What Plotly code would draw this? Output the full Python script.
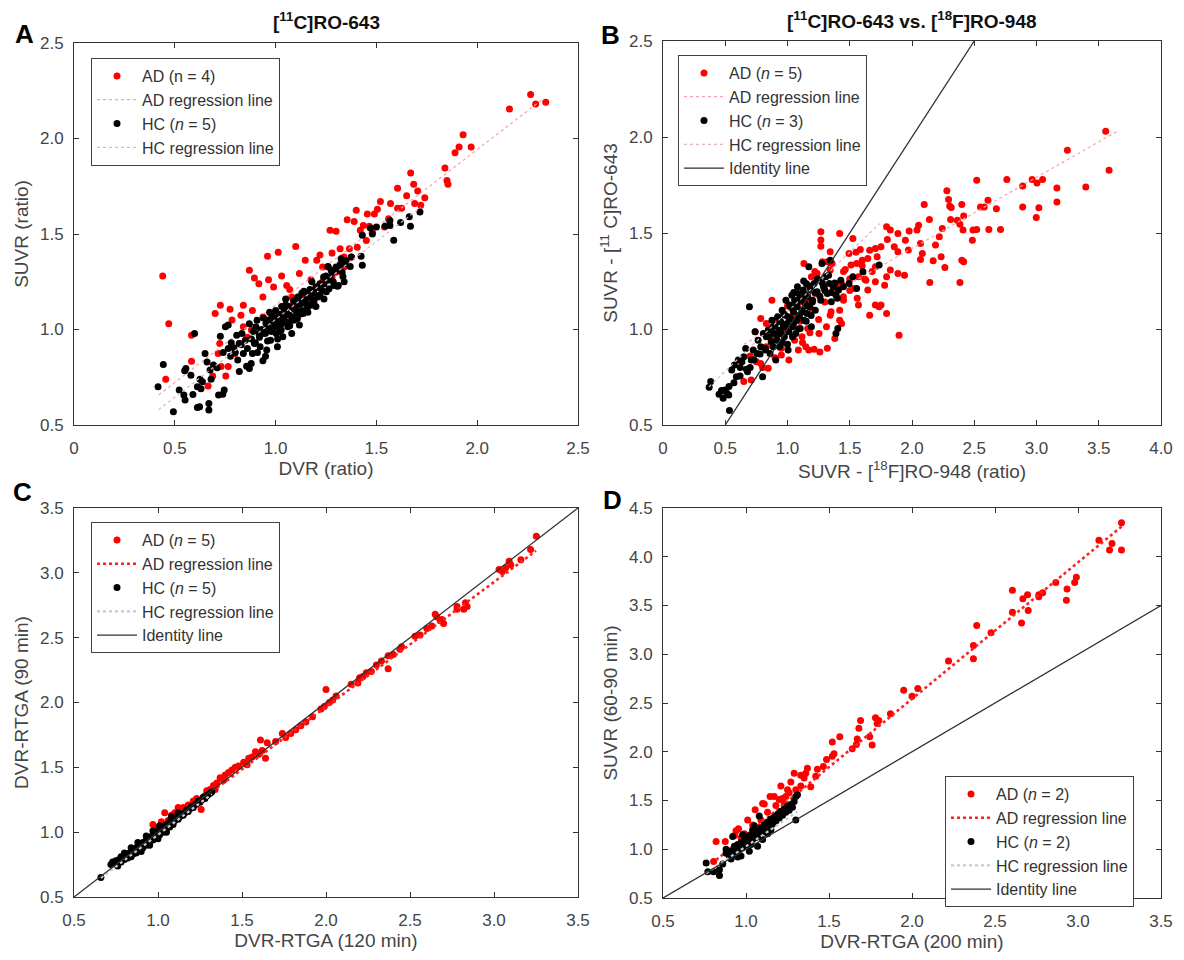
import plotly.graph_objects as go

# ---------------- data ----------------
# Panel A: [11C]RO-643, SUVR vs DVR
a_ad = [(0.44,1.28),(0.47,1.03),(0.455,0.74),(2.265,2.23),(2.16,2.155),(2.29,2.18),(2.34,2.19),(1.93,2.02),(1.91,1.955),(1.97,1.955),
        (1.89,1.925),(1.84,1.845),(1.85,1.78),(1.855,1.76),(1.74,1.69),(1.67,1.82),(1.685,1.76),(1.705,1.725),(1.605,1.74),(1.65,1.70),
        (1.69,1.66),(1.625,1.635),(1.605,1.635),(1.57,1.66),(1.52,1.67),(1.505,1.63),(1.49,1.605),(1.455,1.605),(1.40,1.625),(1.355,1.575),
        (1.39,1.565),(1.435,1.545),(1.42,1.52),(1.30,1.515),(1.27,1.52),(1.10,1.435),(1.013,1.404),(0.96,1.383),(0.87,1.31),(0.895,1.27),
        (0.917,1.24),(0.937,1.17),(0.965,1.26),(0.99,1.223),(1.03,1.28),(1.055,1.23),(1.07,1.21),(1.08,1.17),(1.118,1.293),(1.147,1.362),
        (1.175,1.26),(1.204,1.362),(1.233,1.327),(1.26,1.327),(1.28,1.40),(1.32,1.423),(1.34,1.38),(1.366,1.423),(1.22,1.39),(0.726,1.127),
        (0.70,1.084),(0.774,1.106),(0.828,1.075),(0.84,1.127),(0.885,1.10),(0.937,1.066),(0.84,1.014),(0.784,1.05),(0.583,0.97),(0.583,0.834),
        (0.723,0.927),(0.715,0.875),(0.688,0.757),(0.665,0.704),(0.73,0.806),(0.753,0.757),(0.765,0.806),(0.797,0.875),(0.82,0.927),(0.86,0.96),
        (0.88,0.997),(0.955,1.05),(0.994,1.084),(1.04,1.118),(1.09,1.145),(1.128,1.17),(1.166,1.188),(1.204,1.223),(1.233,1.25),(1.28,1.275),
        (1.30,1.30),(1.34,1.327),(1.376,1.38),(1.405,1.43),(1.45,1.466),(1.48,1.51),(1.54,1.537),(1.56,1.58),(1.465,1.54),(1.72,1.65)]
a_hc = [(0.417,0.70),(0.443,0.817),(0.493,0.57),(0.522,0.683),(0.545,0.657),(0.551,0.631),(0.555,0.796),(0.549,0.784),(0.598,0.979),(0.612,0.70),
        (0.612,0.592),(0.623,0.595),(0.625,0.739),(0.637,0.727),(0.65,0.875),(0.66,0.83),(0.669,0.613),(0.669,0.578),(0.675,0.788),(0.692,0.814),
        (0.717,0.657),(0.738,0.661),(0.745,0.683),(0.726,0.965),(0.751,1.014),(0.765,1.023),(0.765,0.90),(0.776,0.86),(0.793,0.904),(0.807,0.97),
        (0.812,0.84),(0.82,0.927),(0.833,0.979),(0.84,0.875),(0.85,0.944),(0.856,0.808),(0.87,0.796),(0.879,0.822),(0.885,0.875),(0.895,0.927),
        (0.902,1.014),(0.908,1.049),(0.917,0.979),(0.923,0.91),(0.937,0.836),(0.942,0.979),(0.952,1.031),(0.956,0.893),(0.965,0.997),(0.975,0.944),
        (0.984,1.066),(0.994,1.014),(1.003,0.979),(1.009,0.91),(1.019,1.049),(1.028,0.997),(1.036,0.962),(1.042,1.092),(1.051,1.04),(1.061,1.014),
        (1.07,1.075),(1.08,0.979),(1.09,1.049),(1.10,1.10),(1.108,1.058),(1.118,1.023),(1.128,1.136),(1.137,1.084),(1.147,1.153),(1.156,1.11),
        (1.166,1.17),(1.175,1.127),(1.185,1.205),(1.19,1.145),(1.20,1.223),(1.21,1.17),(1.22,1.24),(1.23,1.205),(1.238,1.275),(1.252,1.197),
        (1.26,1.258),(1.276,1.31),(1.286,1.25),(1.30,1.327),(1.311,1.23),(1.325,1.371),(1.334,1.278),(1.348,1.345),(1.376,1.38),(1.424,1.383),
        (1.43,1.336),(1.43,1.493),(1.47,1.531),(1.50,1.537),(1.544,1.542),(1.567,1.545),(1.586,1.467),(1.62,1.56),(1.663,1.59),(1.669,1.54),
        (1.716,1.615),(1.567,1.571),(1.48,1.50),(1.265,1.214),(1.307,1.226),
        (0.86,0.90),(0.88,0.95),(0.90,0.93),(0.92,0.96),(0.93,1.00),(0.95,0.98),(0.96,1.02),(0.97,1.05),(0.98,0.99),(0.99,1.04),
        (1.00,1.06),(1.01,1.02),(1.02,1.08),(1.03,1.03),(1.04,1.06),(1.05,1.10),(1.06,1.08),(1.07,1.12),(1.08,1.05),(1.09,1.11),
        (1.10,1.07),(1.11,1.13),(1.12,1.16),(1.13,1.10),(1.14,1.14),(1.15,1.19),(1.16,1.13),(1.17,1.21),(1.18,1.16),(1.19,1.19),
        (1.21,1.22),(1.22,1.18),(1.24,1.24),(1.25,1.28),(1.27,1.27),(1.28,1.30),(1.29,1.23),(1.31,1.31),(1.32,1.34),(1.33,1.30),
        (1.35,1.36),(1.37,1.33),(1.00,1.10),(0.98,1.08),(1.05,1.13),(0.94,1.06),(0.89,0.99),(0.83,0.92),(0.87,1.03),(0.91,0.88),
        (0.96,0.94),(1.02,0.99),(1.06,1.03),(1.12,1.08),(1.16,1.09),(1.20,1.12),(1.24,1.16),(1.18,1.25),(1.14,1.20),(1.26,1.33),
        (1.34,1.25),(0.80,0.88),(0.78,0.93),(0.74,0.88),(0.71,0.80),(0.68,0.74),(0.63,0.69),(0.58,0.76),(0.59,0.66),(0.82,0.78),
        (0.95,0.86),(1.11,1.17),(1.05,1.16),(1.03,1.12),(0.97,1.09),(1.09,1.15),(1.13,1.19),(1.07,1.02),(1.01,0.95)]
# regression lines: (slope, intercept, x_start, x_end)
a_ad_fit = (0.813, 0.316, 0.42, 2.33)
a_hc_fit = (0.815, 0.238, 0.42, 1.72)

# Panel B: [11C]RO-643 SUVR vs [18F]RO-948 SUVR
b_ad = [(3.556,2.03),(3.248,1.931),(3.583,1.827),(2.762,1.778),(2.52,1.775),(2.889,1.745),(2.965,1.778),(3.004,1.761),(3.049,1.778),(3.164,1.735),
        (3.396,1.74),(2.28,1.72),(2.294,1.674),(2.303,1.64),(2.315,1.633),(2.098,1.648),(2.40,1.648),(2.55,1.636),(2.58,1.636),(2.61,1.67),
        (2.678,1.626),(2.889,1.636),(3.019,1.631),(3.164,1.662),(2.998,1.581),(2.14,1.57),(2.31,1.57),(2.364,1.567),(2.415,1.588),(2.385,1.546),
        (2.41,1.515),(2.49,1.515),(2.52,1.518),(2.617,1.518),(2.711,1.518),(2.485,1.462),(2.243,1.523),(2.219,1.48),(2.189,1.437),(2.053,1.541),
        (2.04,1.515),(1.977,1.511),(1.947,1.462),(2.068,1.445),(2.083,1.393),(1.971,1.411),(2.068,1.362),(2.17,1.355),(2.234,1.376),(2.264,1.32),
        (2.40,1.358),(2.415,1.35),(2.143,1.242),(2.385,1.242),(1.896,0.968),(1.796,1.532),(1.826,1.515),(1.887,1.497),(1.802,1.466),(1.857,1.428),
        (1.887,1.402),(1.751,1.428),(1.706,1.419),(1.66,1.41),(1.585,1.414),(1.525,1.471),(1.419,1.497),(1.268,1.506),(1.268,1.463),(1.268,1.431),
        (1.343,1.402),(1.494,1.393),(1.72,1.376),(1.645,1.367),(1.60,1.358),(1.555,1.341),(1.51,1.333),(1.464,1.31),(1.826,1.307),(1.796,1.272),
        (1.887,1.289),(1.94,1.28),(1.706,1.324),(1.706,1.246),(1.63,1.254),(1.57,1.272),(1.78,1.228),(1.645,1.203),(1.525,1.211),(1.434,1.237),
        (1.389,1.185),(1.449,1.168),(1.706,1.125),(1.736,1.116),(1.66,1.072),(1.796,1.081),(1.751,1.125),(1.57,1.125),(1.419,1.098),(1.343,1.072),
        (1.419,1.046),(1.434,1.029),(1.313,1.012),(1.253,0.977),(1.162,1.003),(1.117,0.96),(1.147,0.908),(1.087,0.89),(1.011,0.838),(0.951,0.864),
        (0.89,0.942),(0.83,0.908),(0.785,0.82),(0.709,0.734),(0.649,0.726),(0.845,0.795),(1.171,0.89),(1.214,0.894),(1.057,0.942),(1.177,1.142),
        (1.162,1.229),(1.192,1.272),(1.238,1.289),(1.223,1.185),(1.298,1.211),(1.343,1.307),(1.358,1.341),(1.32,1.35),(1.066,1.116),(1.102,1.142),
        (1.011,1.064),(0.981,1.003),(0.921,1.055),(0.875,1.15),(0.785,1.055),(0.83,1.029),(0.74,0.986),(1.132,1.341),
        (1.00,1.12),(1.05,1.08),(1.10,1.04),(1.15,1.16),(1.20,1.10),(1.25,1.05),(1.30,1.14),(1.35,1.09),(1.40,1.22),(1.45,1.30),
        (1.50,1.26),(1.55,1.40),(1.60,1.33),(1.28,1.35),(1.22,1.30),(1.18,0.98),(1.12,0.93),(0.95,0.90),(0.90,0.85),(0.80,0.80),
        (0.75,0.83),(0.70,0.86),(0.85,1.00),(1.45,1.15),(1.38,0.95),(1.32,0.90),(1.26,0.88),(1.50,1.20),(1.62,1.26),(1.68,1.30),(1.56,1.16)]
b_hc = [(0.371,0.696),(0.383,0.726),(0.483,0.639),(0.498,0.682),(0.513,0.665),(0.528,0.656),(0.534,0.575),(0.552,0.786),(0.574,0.812),(0.589,0.751),
        (0.604,0.838),(0.619,0.755),(0.634,0.83),(0.649,0.856),(0.664,0.899),(0.679,0.777),(0.694,1.116),(0.709,0.838),(0.725,0.89),(0.74,0.986),
        (0.755,0.873),(0.764,0.942),(0.785,0.908),(0.80,0.751),(0.806,0.977),(0.824,0.89),(0.83,0.96),(0.845,0.994),(0.86,0.873),(0.869,0.934),
        (0.875,1.046),(0.885,0.908),(0.89,0.977),(0.90,1.02),(0.906,0.838),(0.915,0.942),(0.921,1.064),(0.93,0.994),(0.936,0.908),(0.945,1.038),
        (0.951,0.977),(0.957,1.098),(0.966,1.012),(0.975,0.96),(0.981,1.072),(0.987,1.15),(0.996,1.029),(1.005,0.89),(1.011,0.986),(1.017,1.125),
        (1.026,1.055),(1.035,1.176),(1.042,1.012),(1.048,1.09),(1.057,1.15),(1.066,0.977),(1.072,1.046),(1.078,1.116),(1.087,1.185),(1.096,1.072),
        (1.102,1.003),(1.111,1.15),(1.117,1.098),(1.126,1.203),(1.132,1.046),(1.141,1.133),(1.15,1.237),(1.156,1.081),(1.162,1.168),(1.171,1.324),
        (1.177,1.116),(1.186,1.203),(1.192,1.012),(1.202,1.15),(1.214,1.237),(1.223,1.098),(1.238,1.194),(1.253,1.254),(1.268,1.15),(1.277,1.341),
        (1.289,1.22),(1.307,1.272),(1.32,1.185),(1.337,1.237),(1.352,1.142),(1.367,1.22),(1.389,1.176),(1.389,0.977),(1.404,1.003),(1.41,1.203),
        (1.428,1.254),(1.449,1.22),(1.494,1.237),(1.555,1.211),(1.606,1.298),(1.736,1.333),(1.525,1.272),(1.343,1.358),
        (0.88,1.01),(0.92,0.97),(0.94,1.04),(0.97,1.08),(0.99,1.01),(1.01,1.06),(1.03,1.11),(1.05,1.03),(1.07,1.13),(1.09,1.07),
        (1.10,1.16),(1.12,1.09),(1.14,1.18),(1.16,1.12),(1.18,1.22),(1.20,1.14),(1.22,1.19),(1.24,1.26),(1.26,1.17),(1.28,1.24),
        (1.30,1.20),(1.33,1.28),(1.35,1.19),(1.38,1.24),(1.40,1.16),(1.05,1.19),(1.08,1.22),(1.13,1.25),(0.96,0.93),(1.00,0.92),
        (1.04,0.96),(1.09,1.00),(1.15,1.04),(1.19,1.07),(0.85,0.96),(0.82,0.90),(0.78,0.87),(0.73,0.84),(0.70,0.80),(0.67,0.79),
        (0.62,0.80),(0.57,0.72),(0.53,0.70),(0.47,0.68),(0.45,0.66)]
b_ad_fit = (0.370, 0.680, 0.65, 3.65)
b_hc_fit = (0.620, 0.470, 0.37, 1.74)

# Panel C: DVR-RTGA 90 min vs 120 min
c_ad = [(3.252,3.282),(3.218,3.18),(3.16,3.10),(3.09,3.09),(3.07,3.04),(3.03,3.025),(3.05,3.01),(3.10,3.06),(2.84,2.74),(2.83,2.77),
        (2.78,2.74),(2.78,2.72),(2.82,2.72),(2.65,2.68),(2.66,2.66),(2.68,2.63),(2.70,2.61),(2.63,2.59),(2.69,2.64),(2.56,2.52),
        (2.53,2.51),(2.60,2.57),(2.45,2.43),(2.44,2.41),(2.40,2.37),(2.37,2.36),(2.37,2.26),(2.33,2.32),(2.30,2.29),(2.27,2.24),
        (2.24,2.23),(2.20,2.19),(2.19,2.15),(2.15,2.14),(2.22,2.20),(2.0,2.10),(2.06,2.05),(2.04,2.02),(2.02,2.00),(1.97,1.95),
        (1.99,1.97),(1.92,1.89),(1.85,1.82),(1.82,1.79),(1.88,1.85),(1.79,1.76),(1.74,1.76),(1.76,1.73),(1.70,1.70),(1.65,1.69),
        (1.61,1.71),(1.64,1.57),(1.58,1.62),(1.60,1.60),(1.62,1.63),(1.56,1.58),(1.54,1.57),(1.51,1.54),(1.53,1.52),(1.48,1.51),
        (1.46,1.50),(1.44,1.48),(1.42,1.46),(1.40,1.44),(1.37,1.42),(1.39,1.40),(1.35,1.38),(1.33,1.36),(1.34,1.33),(1.31,1.33),
        (1.30,1.30),(1.29,1.32),(1.28,1.28),(1.27,1.27),(1.26,1.25),(1.23,1.26),(1.257,1.174),(1.24,1.23),(1.21,1.24),(1.18,1.21),
        (1.15,1.19),(1.12,1.19),(1.10,1.15),(1.08,1.13),(1.04,1.15),(1.06,1.09),(0.97,1.06),(1.02,1.08),(0.99,1.03)]
c_hc = [(0.66,0.65),(0.72,0.75),(0.73,0.77),(0.74,0.76),(0.75,0.78),(0.76,0.74),(0.77,0.79),(0.78,0.77),(0.79,0.80),(0.80,0.79),
        (0.81,0.82),(0.82,0.80),(0.83,0.84),(0.84,0.81),(0.85,0.86),(0.85,0.83),(0.86,0.85),(0.87,0.88),(0.87,0.84),(0.88,0.87),
        (0.89,0.90),(0.89,0.86),(0.90,0.89),(0.91,0.92),(0.91,0.88),(0.92,0.91),(0.93,0.94),(0.93,0.90),(0.94,0.93),(0.95,0.96),
        (0.95,0.92),(0.96,0.95),(0.97,0.98),(0.97,0.94),(0.98,0.97),(0.99,1.00),(0.99,0.96),(1.00,0.99),(1.01,1.02),(1.01,0.98),
        (1.02,1.01),(1.03,1.04),(1.03,1.00),(1.04,1.03),(1.05,1.06),(1.05,1.02),(1.06,1.05),(1.07,1.08),(1.07,1.04),(1.08,1.07),
        (1.09,1.10),(1.09,1.06),(1.10,1.09),(1.11,1.11),(1.12,1.10),(1.13,1.12),(1.14,1.14),(1.15,1.13),(1.16,1.15),(1.17,1.17),
        (1.18,1.16),(1.19,1.18),(1.20,1.20),(1.21,1.19),(1.22,1.21),(1.23,1.22),(1.24,1.24),(1.25,1.23),(1.26,1.25),(1.27,1.27),
        (1.28,1.26),(1.29,1.28),(1.30,1.29),(1.31,1.30),(1.32,1.31),(0.93,0.97),(0.97,1.01),(1.01,1.05),(0.90,0.85),(0.95,0.90),
        (1.00,0.95),(1.05,1.00),(0.88,0.92),(0.84,0.88),(0.80,0.84),(0.78,0.81),(1.08,1.12),(1.12,1.15)]
c_ad_fit = (0.963, 0.040, 0.95, 3.25)
c_hc_fit = (0.980, 0.000, 0.66, 1.32)

# Panel D: SUVR (60-90 min) vs DVR-RTGA (200 min)
d_ad = [(3.262,4.35),(3.126,4.17),(3.205,4.135),(3.19,4.07),(3.262,4.07),(2.99,3.79),(2.98,3.735),(2.866,3.735),(2.934,3.67),(2.93,3.555),
        (2.787,3.63),(2.764,3.61),(2.764,3.59),(2.696,3.61),(2.605,3.657),(2.668,3.57),(2.70,3.45),(2.605,3.43),(2.66,3.32),(2.39,3.295),
        (2.37,3.09),(2.37,2.955),(2.476,3.22),(2.22,2.93),(2.035,2.65),(2.0,2.57),(1.95,2.63),(1.87,2.39),(1.80,2.32),(1.78,2.35),
        (1.79,2.29),(1.745,2.155),(1.76,2.07),(1.69,2.32),(1.68,2.24),(1.67,2.13),(1.64,2.03),(1.665,2.075),(1.565,2.155),(1.52,2.10),
        (1.53,1.98),(1.52,1.955),(1.485,1.92),(1.466,1.85),(1.43,1.82),(1.37,1.83),(1.39,1.64),(1.33,1.76),(1.35,1.73),(1.29,1.78),
        (1.27,1.69),(1.21,1.65),(1.25,1.61),(1.17,1.54),(1.11,1.465),(1.055,1.405),(1.01,1.30),(0.955,1.21),(0.93,1.14),(0.82,1.08),
        (0.805,0.875),(0.875,1.08),(1.20,1.51),(1.24,1.54),(1.30,1.61),(1.33,1.65),(1.36,1.78),(1.42,1.75),(1.09,1.30),(1.10,1.47),
        (1.145,1.54),(0.99,1.16),(0.94,1.19),(0.97,1.12),(1.04,1.25),(1.13,1.38),(1.18,1.45),(1.22,1.52),(1.26,1.58),(1.23,1.47)]
d_hc = [(0.76,0.86),(0.77,0.77),(0.805,0.77),(0.84,0.73),(0.84,0.79),(0.86,0.85),(0.88,0.96),(0.88,1.00),(0.90,0.93),(0.90,0.98),
        (0.91,0.90),(0.92,1.13),(0.93,0.99),(0.93,1.03),(0.94,0.96),(0.95,1.05),(0.96,1.00),(0.97,1.07),(0.98,1.02),(0.99,1.09),
        (1.00,1.04),(1.00,1.12),(1.01,1.07),(1.02,1.14),(1.03,1.05),(1.04,1.10),(1.05,1.16),(1.06,1.12),(1.07,1.19),(1.07,1.03),
        (1.08,1.15),(1.09,1.22),(1.10,1.18),(1.11,1.25),(1.12,1.20),(1.13,1.28),(1.13,1.16),(1.14,1.23),(1.15,1.31),(1.16,1.26),
        (1.17,1.33),(1.18,1.29),(1.19,1.36),(1.20,1.32),(1.21,1.39),(1.22,1.35),(1.23,1.41),(1.24,1.38),(1.25,1.44),(1.26,1.40),
        (1.27,1.46),(1.28,1.43),(1.29,1.49),(1.30,1.30),(1.30,1.54),(1.31,1.56),(1.08,1.34),(1.05,1.24),(0.98,1.15),(1.02,0.98),
        (0.97,0.93),(1.10,1.10),(1.15,1.20),(0.95,0.92),(0.92,0.94),(1.04,1.20)]
d_ad_fit = (1.400, -0.258, 0.82, 3.27)
d_hc_fit = (1.150, -0.120, 0.76, 1.31)

# axis ranges and tick labels
a_xticks = [0, 0.5, 1.0, 1.5, 2.0, 2.5]
a_xlabels = ["0", "0.5", "1.0", "1.5", "2.0", "2.5"]
a_yticks = [0.5, 1.0, 1.5, 2.0, 2.5]
b_xticks = [0, 0.5, 1.0, 1.5, 2.0, 2.5, 3.0, 3.5, 4.0]
b_xlabels = ["0", "0.5", "1.0", "1.5", "2.0", "2.5", "3.0", "3.5", "4.0"]
b_yticks = [0.5, 1.0, 1.5, 2.0, 2.5]
c_xticks = [0.5, 1.0, 1.5, 2.0, 2.5, 3.0, 3.5]
c_yticks = [0.5, 1.0, 1.5, 2.0, 2.5, 3.0, 3.5]
d_xticks = [0.5, 1.0, 1.5, 2.0, 2.5, 3.0, 3.5]
d_yticks = [0.5, 1.0, 1.5, 2.0, 2.5, 3.0, 3.5, 4.0, 4.5]

# ---------------- layout helpers ----------------
W, H, OFF = 1168, 944, 8
FONT = "Liberation Sans, Arial, sans-serif"


def fx(px):
    return (px - OFF) / W


def fy(py):
    return 1 - (py - OFF) / H


fig = go.Figure()

RED = "#ff0000"
BLACK = "#000000"


def add_panel(k, ad, hc, ad_fit, hc_fit, names, thick, identity, xr, yr):
    xa = "x" if k == 1 else f"x{k}"
    ya = "y" if k == 1 else f"y{k}"
    leg = "legend" if k == 1 else f"legend{k}"
    fig.add_trace(go.Scatter(x=[p[0] for p in ad], y=[p[1] for p in ad], mode="markers",
                             marker=dict(color=RED, size=7, line=dict(width=0)),
                             name=names[0], xaxis=xa, yaxis=ya, legend=leg))
    fx_ = [ad_fit[2], ad_fit[3]]
    fig.add_trace(go.Scatter(x=fx_, y=[ad_fit[0] * v + ad_fit[1] for v in fx_], mode="lines",
                             line=dict(color="#ff2020" if thick else "#f5a3ad", dash="dot",
                                       width=2.6 if thick else 1.2),
                             name="AD regression line", xaxis=xa, yaxis=ya, legend=leg))
    fig.add_trace(go.Scatter(x=[p[0] for p in hc], y=[p[1] for p in hc], mode="markers",
                             marker=dict(color=BLACK, size=7, line=dict(width=0)),
                             name=names[1], xaxis=xa, yaxis=ya, legend=leg))
    hx = [hc_fit[2], hc_fit[3]]
    fig.add_trace(go.Scatter(x=hx, y=[hc_fit[0] * v + hc_fit[1] for v in hx], mode="lines",
                             line=dict(color="#c9c9cf" if thick else "#d9b8c2", dash="dot",
                                       width=2.2 if thick else 1.2),
                             name="HC regression line", xaxis=xa, yaxis=ya, legend=leg))
    if identity:
        lo = max(xr[0], yr[0])
        hi = min(xr[1], yr[1])
        fig.add_trace(go.Scatter(x=[lo, hi], y=[lo, hi], mode="lines",
                                 line=dict(color="#303030", width=1.3),
                                 name="Identity line", xaxis=xa, yaxis=ya, legend=leg))


add_panel(1, a_ad, a_hc, a_ad_fit, a_hc_fit, ["AD (n = 4)", "HC (<i>n</i> = 5)"], False, False, [0, 2.5], [0.5, 2.5])
add_panel(2, b_ad, b_hc, b_ad_fit, b_hc_fit, ["AD (<i>n</i> = 5)", "HC (<i>n</i> = 3)"], False, True, [0, 4.0], [0.5, 2.5])
add_panel(3, c_ad, c_hc, c_ad_fit, c_hc_fit, ["AD (<i>n</i> = 5)", "HC (<i>n</i> = 5)"], True, True, [0.5, 3.5], [0.5, 3.5])
add_panel(4, d_ad, d_hc, d_ad_fit, d_hc_fit, ["AD (<i>n</i> = 2)", "HC (<i>n</i> = 2)"], True, True, [0.5, 3.5], [0.5, 4.5])

TICKFONT = dict(family=FONT, size=17, color="#454545")
TITLEFONT = dict(family=FONT, size=19, color="#454545")


def axis(domain, rng, tickvals, ticktext, title, anchor, standoff, tls):
    return dict(domain=domain, range=rng, tickvals=tickvals, ticktext=ticktext,
                showline=True, linecolor="#333333", linewidth=1, mirror="ticks",
                ticks="inside", ticklen=5, tickcolor="#333333", showgrid=False, zeroline=False,
                tickfont=TICKFONT, anchor=anchor, ticklabelstandoff=tls, automargin=False,
                title=dict(text=title, font=TITLEFONT, standoff=standoff))


def lab(vals):
    return [f"{v:.1f}" for v in vals]


AX_L = [fx(74), fx(578)]
AX_R = [fx(663), fx(1161)]

fig.update_layout(
    xaxis=axis(AX_L, [0, 2.5], a_xticks, a_xlabels, "DVR (ratio)", "y", 4, 8),
    yaxis=axis([fy(425), fy(43)], [0.5, 2.5], a_yticks, lab(a_yticks), "SUVR (ratio)", "x", 6, 6),
    xaxis2=axis(AX_R, [0, 4.0], b_xticks, b_xlabels, "SUVR - [<sup>18</sup>F]RO-948 (ratio)", "y2", 4, 8),
    yaxis2=axis([fy(425), fy(41)], [0.5, 2.5], b_yticks, lab(b_yticks), "SUVR - [<sup>11</sup> C]RO-643", "x2", 6, 6),
    xaxis3=axis(AX_L, [0.5, 3.5], c_xticks, lab(c_xticks), "DVR-RTGA (120 min)", "y3", 4, 8),
    yaxis3=axis([fy(897), fy(508)], [0.5, 3.5], c_yticks, lab(c_yticks), "DVR-RTGA (90 min)", "x3", 6, 6),
    xaxis4=axis(AX_R, [0.5, 3.5], d_xticks, lab(d_xticks), "DVR-RTGA (200 min)", "y4", 4, 8),
    yaxis4=axis([fy(898), fy(508)], [0.5, 4.5], d_yticks, lab(d_yticks), "SUVR (60-90 min)", "x4", 6, 6),
)

LEGFONT = dict(family=FONT, size=16, color="#333333")


def legend(px, py):
    return dict(x=fx(px), y=fy(py), xanchor="left", yanchor="top", xref="paper", yref="paper",
                bgcolor="white", bordercolor="#404040", borderwidth=1, font=LEGFONT,
                itemwidth=40, tracegroupgap=0, traceorder="normal")


fig.update_layout(
    legend=legend(91, 58), legend2=legend(678, 55), legend3=legend(91, 522), legend4=legend(945, 776),
    showlegend=True,
)

annots = [
    dict(text="<b>[<sup>11</sup>C]RO-643</b>", x=fx(326), y=fy(21)),
    dict(text="<b>[<sup>11</sup>C]RO-643 vs. [<sup>18</sup>F]RO-948</b>", x=fx(912), y=fy(20)),
]
for a in annots:
    a.update(xref="paper", yref="paper", showarrow=False, xanchor="center", yanchor="middle",
             font=dict(family=FONT, size=19, color="#111111"))
letters = [("A", 24, 34), ("B", 610, 35), ("C", 22, 492), ("D", 612, 500)]
for t, px, py in letters:
    annots.append(dict(text=f"<b>{t}</b>", x=fx(px), y=fy(py), xref="paper", yref="paper", showarrow=False,
                       xanchor="center", yanchor="middle", font=dict(family=FONT, size=26, color="#000000")))

fig.update_layout(
    annotations=annots,
    width=W, height=H, margin=dict(l=0, r=0, t=0, b=0, autoexpand=False),
    paper_bgcolor="white", plot_bgcolor="white",
    font=dict(family=FONT),
)

fig.write_html("out.html")
